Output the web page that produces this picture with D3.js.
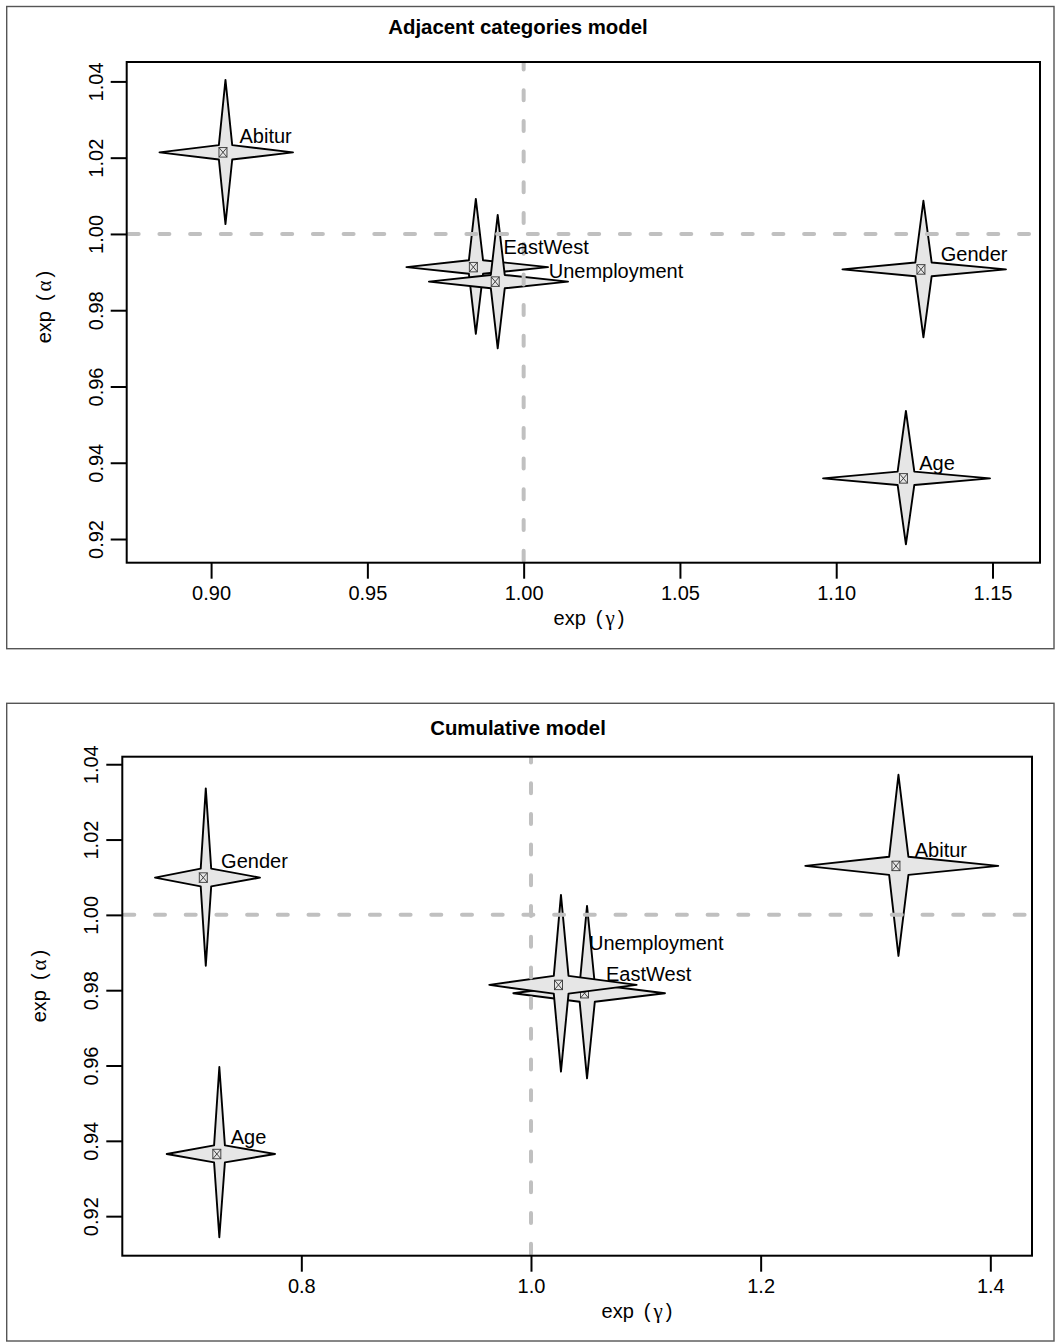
<!DOCTYPE html>
<html>
<head>
<meta charset="utf-8">
<script src="https://cdn.jsdelivr.net/npm/d3@7"></script>
<style>
  html, body { margin: 0; padding: 0; background: #fff; }
  svg { display: block; }
  text { font-family: "Liberation Sans", Arial, Helvetica, sans-serif; }
</style>
</head>
<body>
<script>
// ---------------- DATA ----------------
const variables = ["Gender", "Age", "Abitur", "EastWest", "Unemployment"];

// Adjacent categories model: exp(gamma) (x) and exp(alpha) (y) with interval ends
const adjGamma   = [1.1279, 1.1223, 0.9046, 0.9847, 0.9917];
const adjGammaLo = [1.1020, 1.0958, 0.8835, 0.9625, 0.9697];
const adjGammaHi = [1.1543, 1.1492, 0.9262, 1.0078, 1.0142];
const adjAlpha   = [0.9907, 0.9359, 1.0214, 0.9913, 0.9875];
const adjAlphaLo = [0.9729, 0.9186, 1.0026, 0.9738, 0.9700];
const adjAlphaHi = [1.0087, 0.9536, 1.0404, 1.0092, 1.0050];

// Cumulative model
const cumGamma   = [0.7168, 0.7286, 1.3200, 1.0488, 1.0261];
const cumGammaLo = [0.6726, 0.6828, 1.2389, 0.9846, 0.9637];
const cumGammaHi = [0.7640, 0.7771, 1.4069, 1.1167, 1.0920];
const cumAlpha   = [1.0099, 0.9365, 1.0130, 0.9792, 0.9814];
const cumAlphaLo = [0.9865, 0.9144, 0.9891, 0.9566, 0.9584];
const cumAlphaHi = [1.0336, 0.9596, 1.0372, 1.0024, 1.0053];

// Axis ticks
const adjXTicks = [0.90, 0.95, 1.00, 1.05, 1.10, 1.15];
const adjXTickLabels = ["0.90", "0.95", "1.00", "1.05", "1.10", "1.15"];
const cumXTicks = [0.8, 1.0, 1.2, 1.4];
const cumXTickLabels = ["0.8", "1.0", "1.2", "1.4"];
const yTicks = [0.92, 0.94, 0.96, 0.98, 1.00, 1.02, 1.04];
const yTickLabels = ["0.92", "0.94", "0.96", "0.98", "1.00", "1.02", "1.04"];

// Axis domains (plot region limits)
const adjXDomain = [0.8730, 1.1652];
const adjYDomain = [0.91379, 1.04509];
const cumXDomain = [0.6441, 1.4363];
const cumYDomain = [0.9095, 1.0420];

const titles = ["Adjacent categories model", "Cumulative model"];
const refGamma = 1.0, refAlpha = 1.0;

// ---------------- LAYOUT (positions / styles) ----------------
const W = 1061, H = 1342;
const panels = [
  {
    title: titles[0],
    border: {x0: 6.7, y0: 6.5, x1: 1054, y1: 648.7},
    plot: {x0: 126.7, y0: 62, x1: 1040, y1: 562.7},
    titleX: 518, titleY: 34,
    xTitleX: 589, yTitleY: 307,
    xDomain: adjXDomain, yDomain: adjYDomain,
    xTicks: adjXTicks, xTickLabels: adjXTickLabels,
    g: adjGamma, gLo: adjGammaLo, gHi: adjGammaHi,
    a: adjAlpha, aLo: adjAlphaLo, aHi: adjAlphaHi,
    nudge: [[17.3, -8.3], [13.3, -8.3], [14, -9.6], [27.7, -13.3], [51, -3.7]]
  },
  {
    title: titles[1],
    border: {x0: 6.7, y0: 703.3, x1: 1054, y1: 1341},
    plot: {x0: 122.3, y0: 756.7, x1: 1032, y1: 1255.7},
    titleX: 518, titleY: 734.5,
    xTitleX: 637, yTitleY: 986,
    xDomain: cumXDomain, yDomain: cumYDomain,
    xTicks: cumXTicks, xTickLabels: cumXTickLabels,
    g: cumGamma, gLo: cumGammaLo, gHi: cumGammaHi,
    a: cumAlpha, aLo: cumAlphaLo, aHi: cumAlphaHi,
    nudge: [[15.3, -9.7], [11.4, -10.2], [16.3, -9.3], [19, -12.6], [28, -35]]
  }
];

const FONT = 20;
const GREEK_FONT = "'Liberation Serif', 'DejaVu Serif', serif";
const svg = d3.select("body").append("svg").attr("width", W).attr("height", H);
svg.append("rect").attr("width", W).attr("height", H).attr("fill", "#fff");

function expLabel(sel, greek) {
  sel.append("tspan").text("exp");
  sel.append("tspan").attr("dx", 10).text("(");
  sel.append("tspan").attr("dx", 3).attr("font-family", GREEK_FONT).attr("font-size", 21).text(greek);
  sel.append("tspan").attr("dx", 3).text(")");
}

panels.forEach((p, pi) => {
  const g = svg.append("g");
  const x = d3.scaleLinear().domain(p.xDomain).range([p.plot.x0, p.plot.x1]);
  const y = d3.scaleLinear().domain(p.yDomain).range([p.plot.y1, p.plot.y0]);

  // outer border
  g.append("rect")
    .attr("x", p.border.x0).attr("y", p.border.y0)
    .attr("width", p.border.x1 - p.border.x0).attr("height", p.border.y1 - p.border.y0)
    .attr("fill", "none").attr("stroke", "#555").attr("stroke-width", 1.4);

  // title
  g.append("text").attr("x", p.titleX).attr("y", p.titleY)
    .attr("text-anchor", "middle").attr("font-weight", "bold")
    .attr("font-size", 20.4).attr("fill", "#000").text(p.title);

  // clip
  const clipId = "clip" + pi;
  g.append("clipPath").attr("id", clipId).append("rect")
    .attr("x", p.plot.x0).attr("y", p.plot.y0)
    .attr("width", p.plot.x1 - p.plot.x0).attr("height", p.plot.y1 - p.plot.y0);

  // axes
  const xAxis = d3.axisBottom(x).tickValues(p.xTicks)
    .tickFormat((d, i) => p.xTickLabels[i]).tickSize(16).tickPadding(0);
  const xg = g.append("g").attr("transform", `translate(0,${p.plot.y1})`).call(xAxis);
  xg.select(".domain").remove();
  xg.selectAll(".tick line").attr("stroke", "#000").attr("stroke-width", 2);
  xg.selectAll(".tick text").attr("font-size", FONT).attr("fill", "#000")
    .attr("dy", null).attr("y", 37).attr("font-family", "Liberation Sans, Arial, sans-serif");

  const yAxis = d3.axisLeft(y).tickValues(yTicks)
    .tickFormat((d, i) => yTickLabels[i]).tickSize(16).tickPadding(0);
  const yg = g.append("g").attr("transform", `translate(${p.plot.x0},0)`).call(yAxis);
  yg.select(".domain").remove();
  yg.selectAll(".tick line").attr("stroke", "#000").attr("stroke-width", 2);
  yg.selectAll(".tick text").attr("font-size", FONT).attr("fill", "#000")
    .attr("x", null).attr("dy", null)
    .attr("text-anchor", "middle")
    .attr("font-family", "Liberation Sans, Arial, sans-serif")
    .attr("transform", "translate(-24,0) rotate(-90)");

  // axis titles
  const xt = g.append("text").attr("x", p.xTitleX).attr("y", p.plot.y1 + 62.3)
    .attr("text-anchor", "middle").attr("font-size", FONT).attr("fill", "#000");
  expLabel(xt, "\u03B3");

  const yt = g.append("text")
    .attr("transform", `translate(${p.plot.x0 - 76},${p.yTitleY}) rotate(-90)`)
    .attr("text-anchor", "middle").attr("font-size", FONT).attr("fill", "#000");
  expLabel(yt, "\u03B1");

  // stars
  const data = variables.map((v, i) => ({
    name: v, gx: p.g[i], gLo: p.gLo[i], gHi: p.gHi[i],
    ay: p.a[i], aLo: p.aLo[i], aHi: p.aHi[i], nudge: p.nudge[i]
  }));

  const starG = g.append("g").attr("clip-path", `url(#${clipId})`);
  data.forEach(d => {
    const cx = x(d.gx), cy = y(d.ay);
    const xl = x(d.gLo), xr = x(d.gHi), yt_ = y(d.aHi), yb = y(d.aLo);
    const f = 0.1;
    const pts = [
      [xr, cy],
      [cx + f * (xr - cx), cy - f * (cy - yt_)],
      [cx, yt_],
      [cx - f * (cx - xl), cy - f * (cy - yt_)],
      [xl, cy],
      [cx - f * (cx - xl), cy + f * (yb - cy)],
      [cx, yb],
      [cx + f * (xr - cx), cy + f * (yb - cy)]
    ];
    starG.append("path")
      .attr("d", "M" + pts.map(q => q.join(",")).join("L") + "Z")
      .attr("fill", "#e6e6e6").attr("stroke", "#000")
      .attr("stroke-width", 1.9).attr("stroke-linejoin", "round");
    // center symbol: square with X
    const bx = cx - 2.5, bw = 8, bh = 9.5;
    const sym = starG.append("g").attr("stroke", "#333").attr("stroke-width", 0.9).attr("fill", "none");
    sym.append("rect").attr("x", bx - bw / 2).attr("y", cy - bh / 2).attr("width", bw).attr("height", bh);
    sym.append("path").attr("d",
      `M${bx - bw / 2},${cy - bh / 2}L${bx + bw / 2},${cy + bh / 2}M${bx + bw / 2},${cy - bh / 2}L${bx - bw / 2},${cy + bh / 2}`);
  });

  // reference dashed lines
  const dashG = g.append("g").attr("clip-path", `url(#${clipId})`)
    .attr("stroke", "#c0c0c0").attr("stroke-width", 4)
    .attr("stroke-dasharray", "10 20.7").attr("stroke-linecap", "round");
  dashG.append("line")
    .attr("x1", x(refGamma)).attr("x2", x(refGamma))
    .attr("y1", p.plot.y1 - 2).attr("y2", p.plot.y0);
  dashG.append("line")
    .attr("x1", p.plot.x0 + 2).attr("x2", p.plot.x1)
    .attr("y1", y(refAlpha)).attr("y2", y(refAlpha));

  // labels
  data.forEach(d => {
    g.append("text")
      .attr("x", x(d.gx) + d.nudge[0]).attr("y", y(d.ay) + d.nudge[1])
      .attr("font-size", FONT).attr("fill", "#000").text(d.name);
  });

  // plot box
  g.append("rect")
    .attr("x", p.plot.x0).attr("y", p.plot.y0)
    .attr("width", p.plot.x1 - p.plot.x0).attr("height", p.plot.y1 - p.plot.y0)
    .attr("fill", "none").attr("stroke", "#000").attr("stroke-width", 2);
});
</script>
</body>
</html>
